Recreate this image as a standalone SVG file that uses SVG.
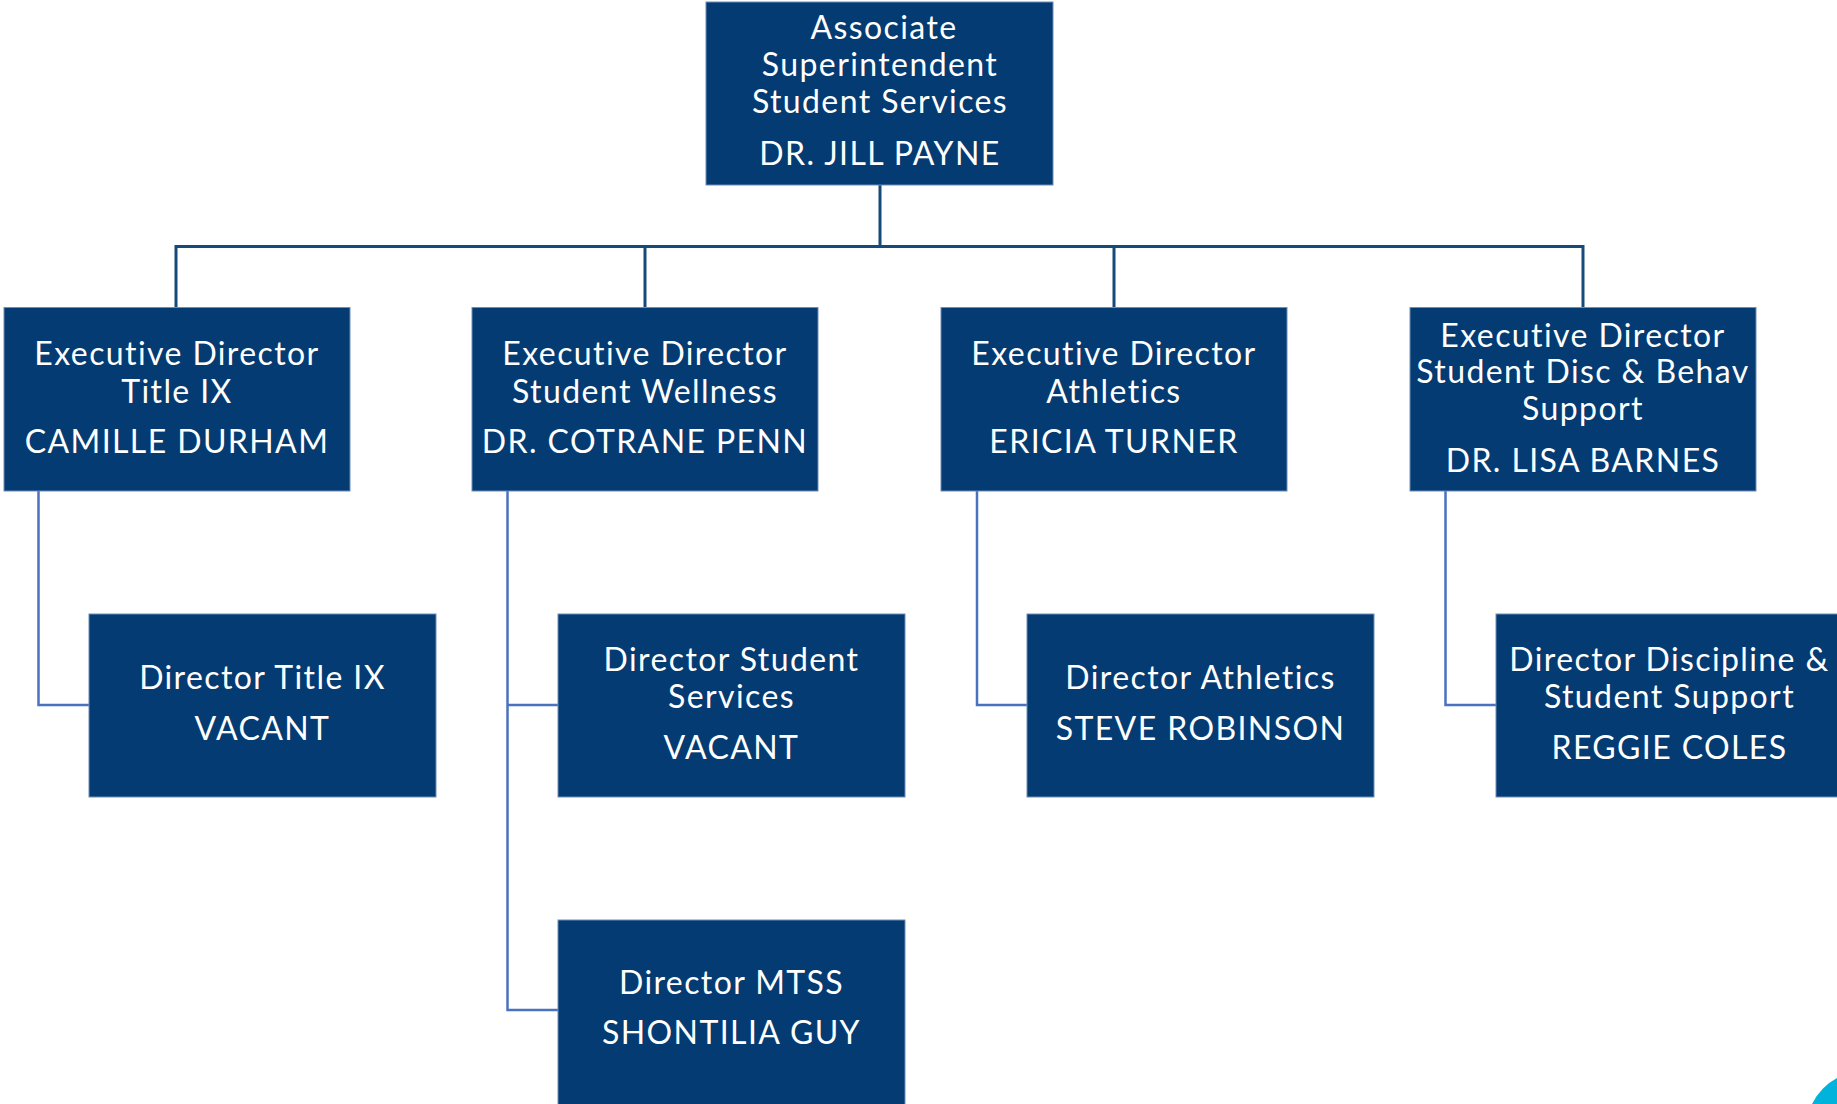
<svg xmlns="http://www.w3.org/2000/svg" width="1837" height="1104" viewBox="0 0 1837 1104">
<style>
.box{fill:#033b72;stroke:#6d8db8;stroke-width:1}
.t{font-family:Lato,"Open Sans",sans-serif;font-size:32px;letter-spacing:1.4px;fill:#ffffff;text-anchor:middle;font-variant-ligatures:none;font-feature-settings:"liga" 0}
.bus{fill:none;stroke:#174a7c;stroke-width:3}
.elb{fill:none;stroke:#4a72be;stroke-width:2.5}
</style>
<rect width="1837" height="1104" fill="#ffffff"/>
<g id="connectors">
<path class="bus" d="M880 185 V246.5 M176 307.5 V246.5 H1583 V307.5 M645 246.5 V307.5 M1114 246.5 V307.5"/>
<path class="elb" d="M38.5 491 V705 H89"/>
<path class="elb" d="M507.5 491 V1010 H558 M507.5 705 H558"/>
<path class="elb" d="M977 491 V705 H1027"/>
<path class="elb" d="M1445.5 491 V705 H1496"/>
</g>
<g id="n-top">
<rect class="box" x="706" y="2" width="347" height="183"/>
<text class="t" x="884" y="39">Associate</text>
<text class="t" x="880" y="76">Superintendent</text>
<text class="t" x="880" y="113">Student Services</text>
<text class="t" x="880" y="165">DR. JILL PAYNE</text>
</g>
<g id="n-ed1">
<rect class="box" x="4" y="307.5" width="346" height="183.5"/>
<text class="t" x="177" y="365">Executive Director</text>
<text class="t" x="177" y="403">Title IX</text>
<text class="t" x="177" y="453">CAMILLE DURHAM</text>
</g>
<g id="n-ed2">
<rect class="box" x="472" y="307.5" width="346" height="183.5"/>
<text class="t" x="645" y="365">Executive Director</text>
<text class="t" x="645" y="403">Student Wellness</text>
<text class="t" x="645" y="453">DR. COTRANE PENN</text>
</g>
<g id="n-ed3">
<rect class="box" x="941" y="307.5" width="346" height="183.5"/>
<text class="t" x="1114" y="365">Executive Director</text>
<text class="t" x="1114" y="403">Athletics</text>
<text class="t" x="1114" y="453">ERICIA TURNER</text>
</g>
<g id="n-ed4">
<rect class="box" x="1410" y="307.5" width="346" height="183.5"/>
<text class="t" x="1583" y="347">Executive Director</text>
<text class="t" x="1583" y="383">Student Disc &amp; Behav</text>
<text class="t" x="1583" y="420">Support</text>
<text class="t" x="1583" y="472">DR. LISA BARNES</text>
</g>
<g id="n-d1">
<rect class="box" x="89" y="614" width="347" height="183"/>
<text class="t" x="262.5" y="689">Director Title IX</text>
<text class="t" x="262.5" y="740">VACANT</text>
</g>
<g id="n-d2">
<rect class="box" x="558" y="614" width="347" height="183"/>
<text class="t" x="731.5" y="671">Director Student</text>
<text class="t" x="731.5" y="708">Services</text>
<text class="t" x="731.5" y="759">VACANT</text>
</g>
<g id="n-d3">
<rect class="box" x="558" y="920" width="347" height="190"/>
<text class="t" x="731.5" y="994">Director MTSS</text>
<text class="t" x="731.5" y="1044">SHONTILIA GUY</text>
</g>
<g id="n-d4">
<rect class="box" x="1027" y="614" width="347" height="183"/>
<text class="t" x="1200.5" y="689">Director Athletics</text>
<text class="t" x="1200.5" y="740">STEVE ROBINSON</text>
</g>
<g id="n-d5">
<rect class="box" x="1496" y="614" width="347" height="183"/>
<text class="t" x="1669.5" y="671">Director Discipline &amp;</text>
<text class="t" x="1669.5" y="708">Student Support</text>
<text class="t" x="1669.5" y="759">REGGIE COLES</text>
</g>
<circle cx="1865" cy="1130" r="59" fill="#00b3dc"/>
</svg>
